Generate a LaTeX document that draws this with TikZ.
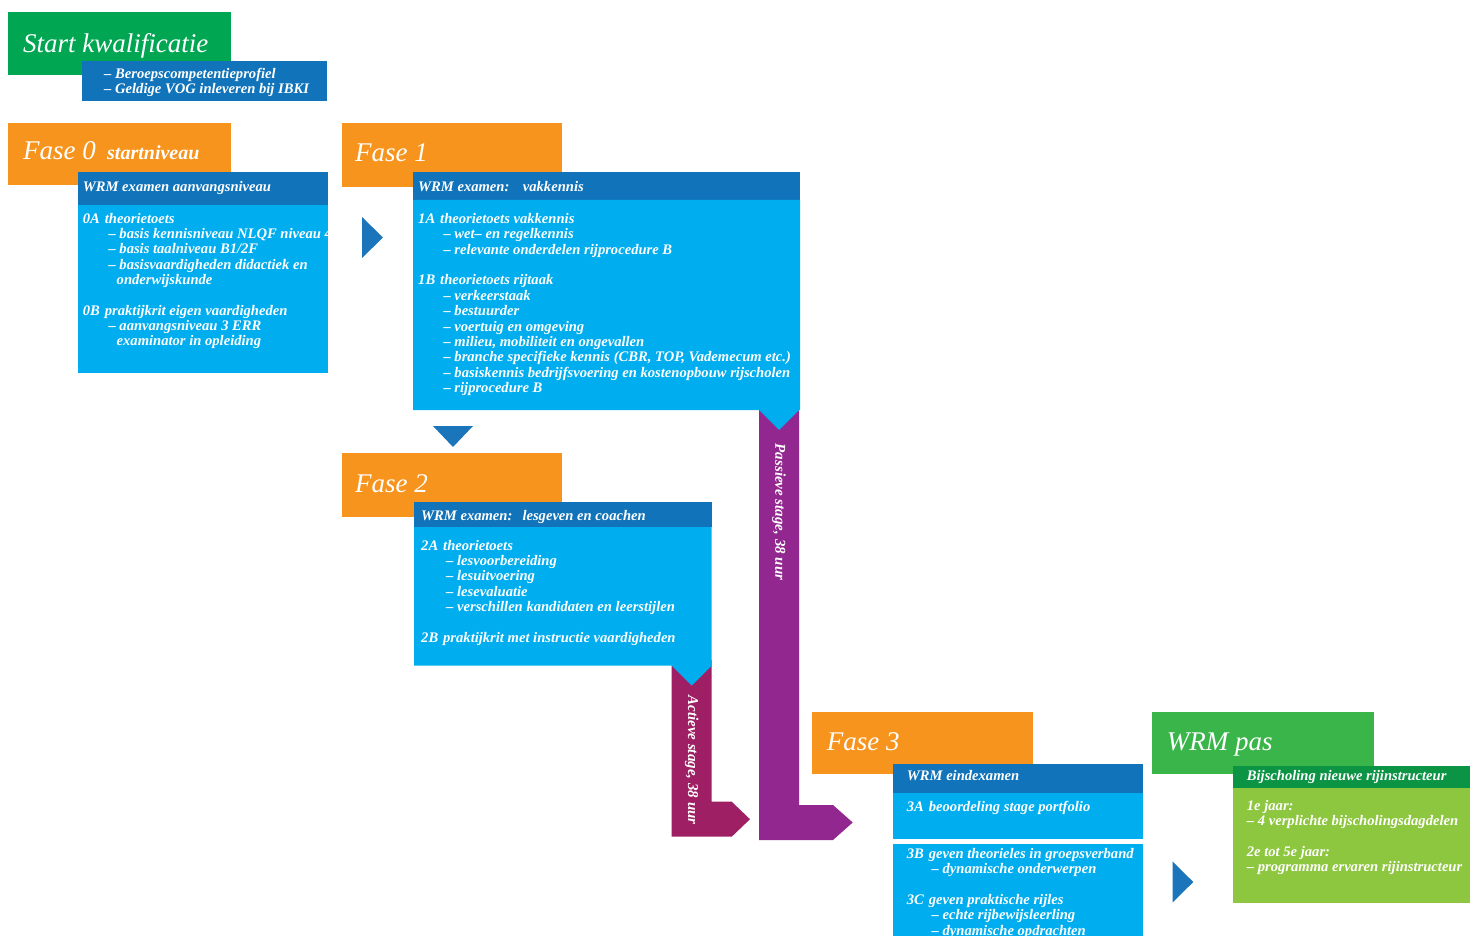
\documentclass[tikz,border=0pt]{standalone}
\usepackage{fontspec}
\setmainfont{Liberation Serif}
\definecolor{cgreen}{HTML}{00A651}
\definecolor{cgreentwo}{HTML}{39B54A}
\definecolor{cdgreen}{HTML}{0B9444}
\definecolor{cygreen}{HTML}{8DC63F}
\definecolor{corange}{HTML}{F7941D}
\definecolor{cdblue}{HTML}{1174BA}
\definecolor{clblue}{HTML}{00AEEF}
\definecolor{ctri}{HTML}{1B75BB}
\definecolor{ccrimson}{HTML}{9E1F63}
\definecolor{cpurple}{HTML}{92278F}
\newcommand\lab[1]{\makebox[22pt][l]{#1}}
\tikzset{
  txt/.style={anchor=base west, inner sep=0pt, text=white, font=\fontsize{14.6}{16}\selectfont\bfseries\itshape},
  ttl/.style={anchor=base west, inner sep=0pt, text=white, font=\fontsize{27}{30}\selectfont\itshape},
  sub/.style={anchor=base west, inner sep=0pt, text=white, font=\fontsize{20}{22}\selectfont\bfseries\itshape},
  stg/.style={anchor=center, inner sep=0pt, text=white, rotate=-90, font=\fontsize{15}{17}\selectfont\bfseries\itshape},
}
\begin{document}
\begin{tikzpicture}[x=1pt,y=-1pt]
\useasboundingbox (0,0) rectangle (1470,936);
\fill[white] (0,0) rectangle (1470,936);

% ---- Start kwalificatie
\fill[cgreen] (8,12) rectangle (231,75);
\fill[cdblue] (82,61) rectangle (327,101);
\node[ttl] (start) at (23,52.3) {Start kwalificatie};
\node[txt] (s1) at (104,78.3) {– Beroepscompetentieprofiel};
\node[txt] (s2) at (104,94) {– Geldige VOG inleveren bij IBKI};

% ---- Fase 0
\fill[corange] (8,123) rectangle (231,185);
\fill[cdblue] (78,172) rectangle (328,205);
\fill[clblue] (78,205) rectangle (328,373);
\node[ttl] (f0) at (23,160) {Fase 0};
\node[sub] (f0s) at (107,160) {startniveau};
\node[txt] (f0h) at (82.7,191.7) {WRM examen aanvangsniveau};
\node[txt] (f0a) at (82.7,223.3) {\lab{0A}theorietoets};
\node[txt] (f0a1) at (108.3,238.6) {– basis kennisniveau NLQF niveau 4};
\node[txt] (f0a2) at (108.3,253.9) {– basis taalniveau B1/2F};
\node[txt] (f0a3) at (108.3,269.2) {– basisvaardigheden didactiek en};
\node[txt] (f0a4) at (116.5,284.5) {onderwijskunde};
\node[txt] (f0b) at (82.7,315.1) {\lab{0B}praktijkrit eigen vaardigheden};
\node[txt] (f0b1) at (108.3,330.4) {– aanvangsniveau 3 ERR};
\node[txt] (f0b2) at (116.5,345.7) {examinator in opleiding};

\fill[ctri] (362,217) -- (383,237.5) -- (362,258) -- cycle;

% ---- Passieve stage arrow
\fill[cpurple] (759,405) -- (799,405) -- (799,805) -- (833,805) -- (852.7,822.5) -- (833,840) -- (759,840) -- cycle;

% ---- Fase 1
\fill[corange] (342,123) rectangle (562,186.7);
\fill[cdblue] (413,172) rectangle (800,200);
\fill[clblue] (413,200) -- (800,200) -- (800,410) -- (799,410) -- (779,430) -- (759,410) -- (413,410) -- cycle;
\node[ttl] (f1) at (355,161.7) {Fase 1};
\node[txt] (f1h) at (418,191.7) {WRM examen:};
\node[txt] (f1h2) at (522.7,191.7) {vakkennis};
\node[txt] (f1a) at (418,223.3) {\lab{1A}theorietoets vakkennis};
\node[txt] (f1a1) at (443.3,238.7) {– wet– en regelkennis};
\node[txt] (f1a2) at (443.3,254.1) {– relevante onderdelen rijprocedure B};
\node[txt] (f1b) at (418,284.9) {\lab{1B}theorietoets rijtaak};
\node[txt] (f1b1) at (443.3,300.3) {– verkeerstaak};
\node[txt] (f1b2) at (443.3,315.7) {– bestuurder};
\node[txt] (f1b3) at (443.3,331.1) {– voertuig en omgeving};
\node[txt] (f1b4) at (443.3,346.5) {– milieu, mobiliteit en ongevallen};
\node[txt] (f1b5) at (443.3,361.9) {– branche specifieke kennis (CBR, TOP, Vademecum etc.)};
\node[txt] (f1b6) at (443.3,377.3) {– basiskennis bedrijfsvoering en kostenopbouw rijscholen};
\node[txt] (f1b7) at (443.3,392.7) {– rijprocedure B};
\node[stg] (pas) at (779,512) {Passieve stage, 38 uur};

\fill[ctri] (433,426) -- (473,426) -- (453,447) -- cycle;

% ---- Actieve stage arrow
\fill[ccrimson] (671.7,660) -- (711.7,660) -- (711.7,801.7) -- (731.7,801.7) -- (750,819.2) -- (731.7,836.7) -- (671.7,836.7) -- cycle;

% ---- Fase 2
\fill[corange] (342,453) rectangle (562,516.7);
\fill[cdblue] (414,502) rectangle (711.7,527);
\fill[clblue] (414,527) -- (711.7,527) -- (711.7,665.7) -- (691.7,685.7) -- (671.7,665.7) -- (414,665.7) -- cycle;
\node[ttl] (f2) at (355,492.7) {Fase 2};
\node[txt] (f2h) at (421,520) {WRM examen:};
\node[txt] (f2h2) at (522.3,520) {lesgeven en coachen};
\node[txt] (f2a) at (421,550) {\lab{2A}theorietoets};
\node[txt] (f2a1) at (446,565.4) {– lesvoorbereiding};
\node[txt] (f2a2) at (446,580.8) {– lesuitvoering};
\node[txt] (f2a3) at (446,596.2) {– lesevaluatie};
\node[txt] (f2a4) at (446,611.6) {– verschillen kandidaten en leerstijlen};
\node[txt] (f2b) at (421,642.4) {\lab{2B}praktijkrit met instructie vaardigheden};
\node[stg] (act) at (691.7,760) {Actieve stage, 38 uur};

% ---- Fase 3
\fill[corange] (812,712) rectangle (1033,774);
\fill[cdblue] (893,763.5) rectangle (1143,793);
\fill[clblue] (893,793) rectangle (1143,839);
\fill[clblue] (893,844) rectangle (1143,945);
\node[ttl] (f3) at (826.7,750) {Fase 3};
\node[txt] (f3h) at (906.7,780.7) {WRM eindexamen};
\node[txt] (f3a) at (906.7,811.7) {\lab{3A}beoordeling stage portfolio};
\node[txt] (f3b) at (906.7,858.3) {\lab{3B}geven theorieles in groepsverband};
\node[txt] (f3b1) at (931.5,873.7) {– dynamische onderwerpen};
\node[txt] (f3c) at (906.7,904.5) {\lab{3C}geven praktische rijles};
\node[txt] (f3c1) at (931.5,919.9) {– echte rijbewijsleerling};
\node[txt] (f3c2) at (931.5,935.3) {– dynamische opdrachten};

\fill[ctri] (1172.7,861.7) -- (1193.3,882) -- (1172.7,902.3) -- cycle;

% ---- WRM pas
\fill[cgreentwo] (1152,712) rectangle (1373.5,774);
\fill[cdgreen] (1233,766) rectangle (1470,788);
\fill[cygreen] (1233,788) rectangle (1470,903);
\node[ttl] (wp) at (1166.7,750) {WRM pas};
\node[txt] (wph) at (1246.7,780) {Bijscholing nieuwe rijinstructeur};
\node[txt] (wp1) at (1246.7,810) {1e jaar:};
\node[txt] (wp2) at (1246.7,825.4) {– 4 verplichte bijscholingsdagdelen};
\node[txt] (wp3) at (1246.7,856.2) {2e tot 5e jaar:};
\node[txt] (wp4) at (1246.7,871.6) {– programma ervaren rijinstructeur};
\end{tikzpicture}
\end{document}
